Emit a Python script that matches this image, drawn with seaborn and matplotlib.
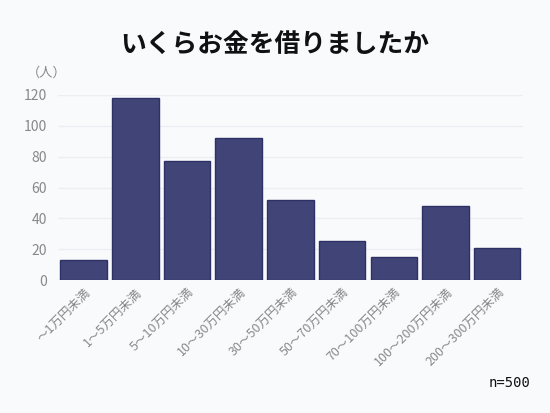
import matplotlib
matplotlib.use("Agg")
import matplotlib.pyplot as plt
import seaborn as sns
import pandas as pd

categories = ["～1万円未満", "1～5万円未満", "5～10万円未満", "10～30万円未満",
              "30～50万円未満", "50～70万円未満", "70～100万円未満",
              "100～200万円未満", "200～300万円未満"]
values = [13, 118, 77, 92, 52, 25, 15, 48, 21]
yticks = [0, 20, 40, 60, 80, 100, 120]

sns.set_theme(style="white")
plt.rcParams['font.family'] = ['Noto Sans CJK JP', 'DejaVu Sans']

bg = "#f9fafc"
fig = plt.figure(figsize=(5.5, 4.13), dpi=100, facecolor=bg)
ax = fig.add_axes([0.105, 0.322, 0.846, 0.448], facecolor=bg)

df = pd.DataFrame({"cat": categories, "val": values})
sns.barplot(data=df, x="cat", y="val", color="#414477", saturation=1,
            width=0.9, edgecolor="#2e3166", linewidth=1, ax=ax, zorder=3)

ax.set_xlim(-0.5, len(categories) - 0.5)
ax.set_ylim(0, 120)
ax.set_yticks(yticks)
ax.grid(axis="y", color="#eceef2", linewidth=1, zorder=0)
for s in ax.spines.values():
    s.set_visible(False)
ax.set_xlabel("")
ax.set_ylabel("")
ax.tick_params(axis="y", colors="#888888", labelsize=10, length=0, pad=8)
ax.tick_params(axis="x", colors="#888888", labelsize=9, length=0, pad=4)
plt.setp(ax.get_xticklabels(), rotation=45, ha="right", rotation_mode="anchor")

fig.text(0.5, 0.89, "いくらお金を借りましたか", ha="center", va="center",
         fontsize=18.5, fontweight="bold", color="#111111")
fig.text(0.085, 0.823, "（人）", ha="center", va="center", fontsize=9.5, color="#888888")
fig.text(0.965, 0.072, "n=500", ha="right", va="center", fontsize=10,
         color="#111111", family=["DejaVu Sans Mono"])

fig.savefig("out.png", dpi=100, facecolor=bg)
